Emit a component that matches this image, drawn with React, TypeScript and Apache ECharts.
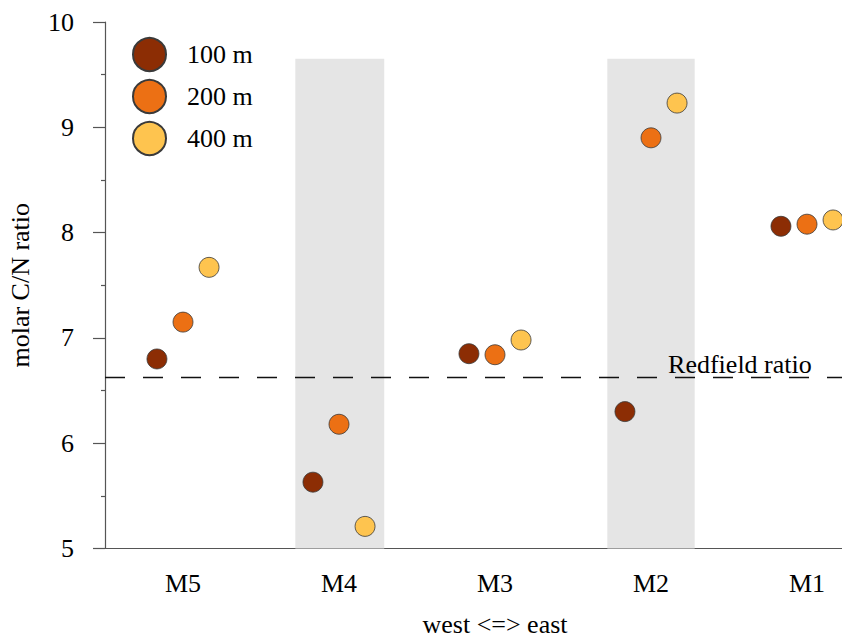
import React, { useEffect, useRef } from "react";
import * as echarts from "echarts";

const stations = ["M5", "M4", "M3", "M2", "M1"];
const depths = ["100 m", "200 m", "400 m"];
const depthOffsets = [-0.167, 0, 0.167];
const colors = ["#8C2D04", "#EC7014", "#FEC44F"];
const values100 = [6.8, 5.63, 6.85, 6.3, 8.06];
const values200 = [7.15, 6.18, 6.84, 8.9, 8.08];
const values400 = [7.67, 5.21, 6.98, 9.23, 8.12];
const redfield = 6.625;
const bandRanges = [
  [1.72, 2.29],
  [3.72, 4.28],
];
const bandTop = 9.65;
const yTicks = [5, 6, 7, 8, 9, 10];

const FONT = "'Liberation Serif', 'Times New Roman', serif";
const FS = 26;

export default function App() {
  const ref = useRef<HTMLDivElement>(null);
  useEffect(() => {
    if (!ref.current) return;
    const chart = echarts.init(ref.current, null, { renderer: "svg" });
    const all = [values100, values200, values400];
    const series: any[] = depths.map((d, i) => ({
      name: d,
      type: "scatter",
      symbol: "circle",
      symbolSize: 20,
      z: 5,
      itemStyle: { color: colors[i], borderColor: "#3a3a3a", borderWidth: 0.8, opacity: 1 },
      data: all[i].map((v, j) => [j + 1 + depthOffsets[i], v]),
    }));
    series.push({
      name: "bands",
      type: "scatter",
      z: 1,
      data: [],
      silent: true,
      markArea: {
        silent: true,
        itemStyle: { color: "#E5E5E5" },
        data: bandRanges.map((r) => [
          { xAxis: r[0], yAxis: 5 },
          { xAxis: r[1], yAxis: bandTop },
        ]),
      },
      markLine: {
        silent: true,
        symbol: ["none", "none"],
        label: { show: false },
        lineStyle: { color: "#111", width: 1.3, type: [20, 18] },
        data: [{ yAxis: redfield }],
      },
      markPoint: {
        silent: true,
        symbol: "circle",
        symbolSize: 0,
        label: {
          show: true,
          position: "top",
          distance: 0,
          formatter: "Redfield ratio",
          color: "#000",
          fontFamily: FONT,
          fontSize: FS,
        },
        data: [{ coord: [4.57, redfield] }],
      },
    });
    chart.setOption({
      animation: false,
      backgroundColor: "#fff",
      textStyle: { fontFamily: FONT },
      grid: { left: 105, right: -35, top: 22, bottom: 89.5, containLabel: false, outerBoundsMode: "none" },
      legend: {
        data: depths,
        orient: "vertical",
        left: 132,
        top: 37,
        padding: 0,
        itemWidth: 33,
        itemHeight: 33,
        itemGap: 7,
        icon: "circle",
        textStyle: { fontFamily: FONT, fontSize: FS, color: "#000", padding: [0, 0, 0, 16] },
      },
      xAxis: {
        type: "value",
        min: 0.5,
        max: 5.5,
        name: "west <=> east",
        nameLocation: "middle",
        nameGap: 63,
        nameTextStyle: { fontFamily: FONT, fontSize: FS, lineHeight: 26, color: "#000" },
        axisLine: { show: true, lineStyle: { color: "#555", width: 1.2 } },
        axisTick: { show: false },
        splitLine: { show: false },
        axisLabel: {
          customValues: [1, 2, 3, 4, 5],
          formatter: (v: number) => stations[Math.round(v) - 1] ?? "",
          fontFamily: FONT,
          fontSize: FS,
          color: "#000",
          margin: 22,
        },
      },
      yAxis: {
        type: "value",
        min: 5,
        max: 10,
        interval: 1,
        name: "molar C/N ratio",
        nameLocation: "middle",
        nameGap: 72,
        nameTextStyle: { fontFamily: FONT, fontSize: FS, color: "#000" },
        axisLine: { show: true, lineStyle: { color: "#555", width: 1.2 } },
        axisTick: { show: true, length: 12, lineStyle: { color: "#555", width: 1.2 } },
        minorTick: { show: true, splitNumber: 2, length: 4, lineStyle: { color: "#555", width: 1.2 } },
        splitLine: { show: false },
        axisLabel: {
          fontFamily: FONT,
          fontSize: FS,
          color: "#000",
          margin: 31,
          formatter: (v: number) => (yTicks.includes(v) ? String(v) : ""),
        },
      },
      series,
    });
    return () => chart.dispose();
  }, []);
  return <div ref={ref} style={{ width: 850, height: 638, marginLeft: -8, marginTop: -8 }} />;
}
